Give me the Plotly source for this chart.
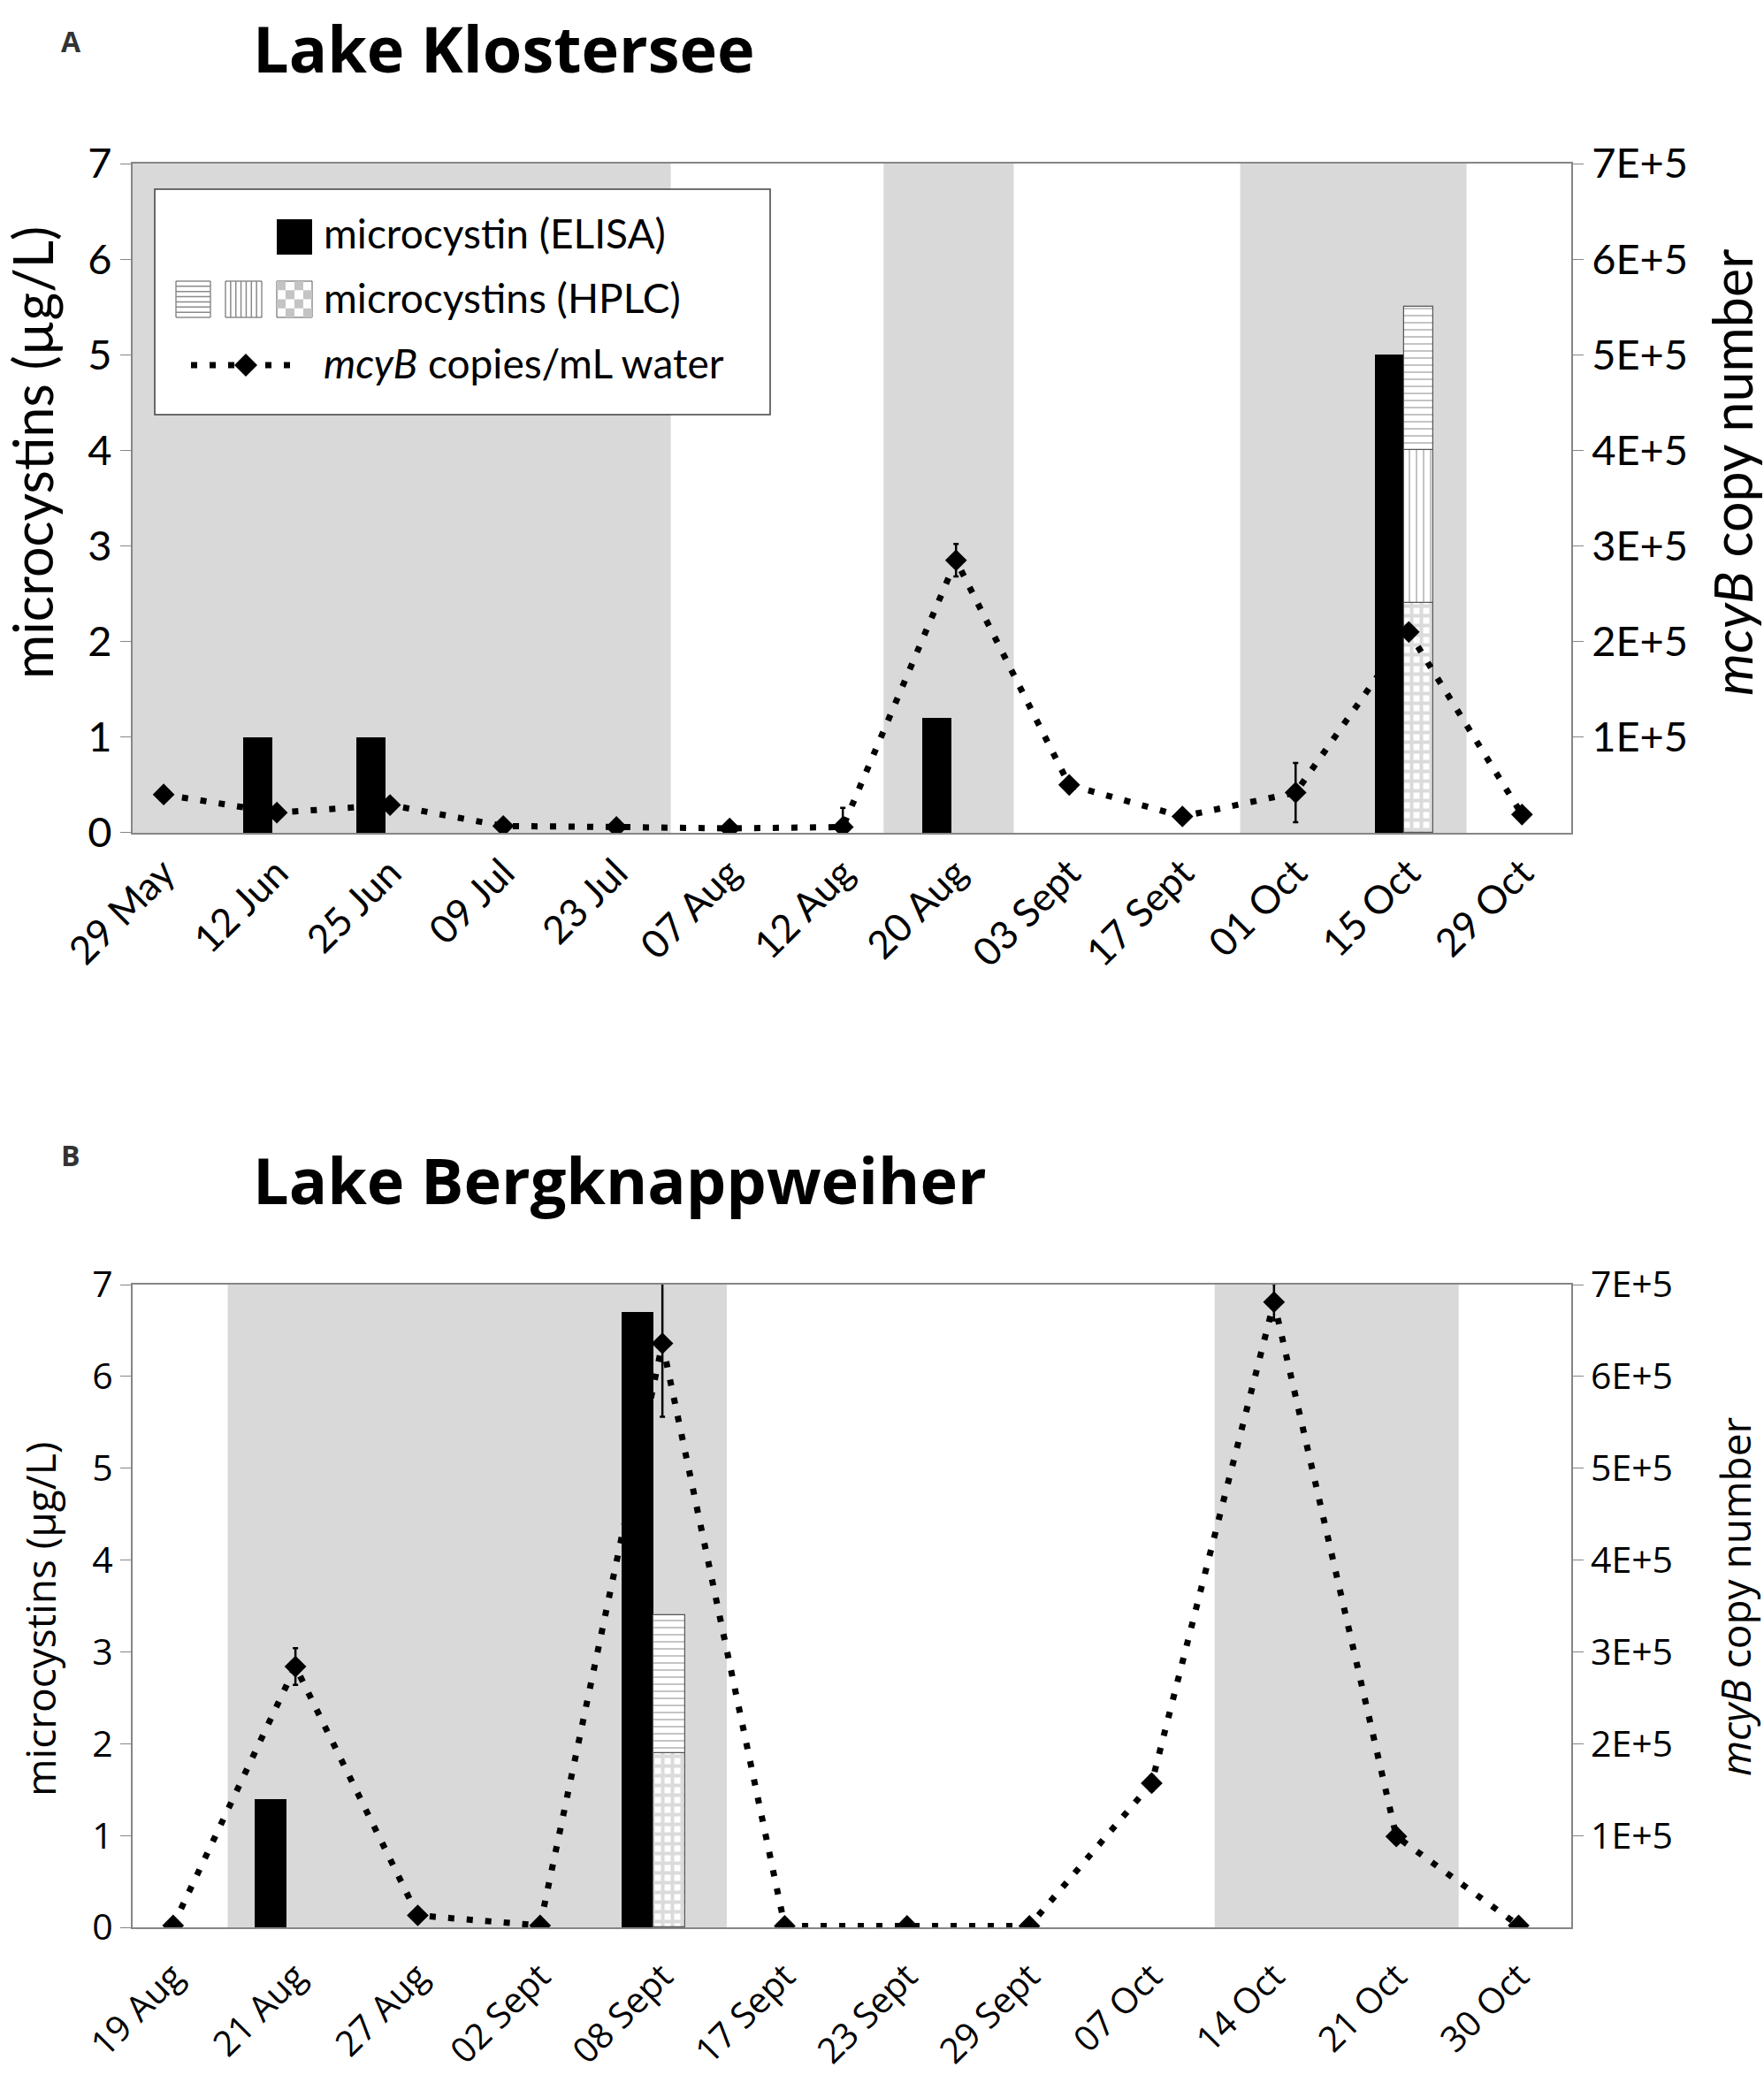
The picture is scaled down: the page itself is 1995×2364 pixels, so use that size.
import numpy as np
import plotly.graph_objects as go
from plotly.subplots import make_subplots

# ---- panel A : Lake Klostersee ----
dates_a = ['29 May', '12 Jun', '25 Jun', '09 Jul', '23 Jul', '07 Aug', '12 Aug',
           '20 Aug', '03 Sept', '17 Sept', '01 Oct', '15 Oct', '29 Oct']
elisa_a = [None, 1.0, 1.0, None, None, None, None, 1.2, None, None, None, 5.0, None]
hplc_check_a = [None] * 11 + [2.4, None]
hplc_vert_a = [None] * 11 + [1.6, None]
hplc_horiz_a = [None] * 11 + [1.5, None]
mcyb_a = [40000, 21000, 29000, 7000, 6000, 4500, 6000, 285000, 50000, 17000, 42000, 210000, 19000]
mcyb_err_a = [1500, 1500, 1500, 1000, 1000, 1000, 20000, 17000, 2000, 2000, 31000, 6000, 6000]
shade_a = [(-0.3, 4.48), (6.36, 7.51), (9.51, 11.51)]

# ---- panel B : Lake Bergknappweiher ----
dates_b = ['19 Aug', '21 Aug', '27 Aug', '02 Sept', '08 Sept', '17 Sept', '23 Sept',
           '29 Sept', '07 Oct', '14 Oct', '21 Oct', '30 Oct']
elisa_b = [None, 1.4, None, None, 6.7, None, None, None, None, None, None, None]
hplc_check_b = [None] * 4 + [1.9] + [None] * 7
hplc_vert_b = [None] * 12
hplc_horiz_b = [None] * 4 + [1.5] + [None] * 7
mcyb_b = [2000, 284000, 13000, 2000, 636000, 1500, 1500, 1500, 157000, 681000, 99000, 2000]
mcyb_err_b = [0, 20000, 5000, 0, 80000, 0, 0, 0, 8000, 20000, 8000, 3000]
shade_b = [(0.446, 4.527), (8.515, 10.51)]

left_ticks = [0, 1, 2, 3, 4, 5, 6, 7]
right_ticks = [100000, 200000, 300000, 400000, 500000, 600000, 700000]
right_labels = ['1E+5', '2E+5', '3E+5', '4E+5', '5E+5', '6E+5', '7E+5']

W, H = 1995, 2364
ML, MR, MT, MB = 150, 218, 185, 184

fig = make_subplots(rows=2, cols=1, specs=[[{'secondary_y': True}], [{'secondary_y': True}]])


def num(v):
    return np.array([np.nan if x is None else x for x in v], dtype=float)


def add_panel(row, dates, elisa, chk, vert, hor, mcyb, err, shift):
    bw = 0.26
    fig.add_trace(go.Bar(x=dates, y=elisa, width=bw, offset=shift - bw,
                         marker=dict(color='black', line=dict(width=0)),
                         showlegend=False), row=row, col=1, secondary_y=False)
    c, v, h = num(chk), num(vert), num(hor)
    base_v = np.nan_to_num(c)
    base_h = base_v + np.nan_to_num(v)
    pats = [(c, np.zeros(len(c)), '+', 11, 0.6, '#b8b8b8'),
            (v, base_v, '|', 8, 0.25, '#8a8a8a'),
            (h, base_h, '-', 8, 0.25, '#8a8a8a')]
    for vals, base, shp, size, sol, fg in pats:
        fig.add_trace(go.Bar(x=dates, y=vals, base=base, width=bw, offset=shift,
                             marker=dict(color='white', line=dict(color='#555555', width=1.2),
                                         pattern=dict(shape=shp, size=size, solidity=sol,
                                                      fgcolor=fg, bgcolor='white',
                                                      fillmode='overlay')),
                             showlegend=False), row=row, col=1, secondary_y=False)
    fig.add_trace(go.Scatter(x=dates, y=mcyb, mode='lines+markers',
                             line=dict(color='black', width=7, dash='7px,14px'),
                             marker=dict(symbol='diamond', size=19, color='black'),
                             error_y=dict(type='data', array=err, color='black',
                                          thickness=2.5, width=3),
                             showlegend=False), row=row, col=1, secondary_y=True)


add_panel(1, dates_a, elisa_a, hplc_check_a, hplc_vert_a, hplc_horiz_a, mcyb_a, mcyb_err_a, -0.04)
add_panel(2, dates_b, elisa_b, hplc_check_b, hplc_vert_b, hplc_horiz_b, mcyb_b, mcyb_err_b, -0.073)

shapes = []
for x0, x1 in shade_a:
    shapes.append(dict(type='rect', xref='x', yref='y domain', x0=x0, x1=x1, y0=0, y1=1,
                       fillcolor='#d9d9d9', line=dict(width=0), layer='below'))
for x0, x1 in shade_b:
    shapes.append(dict(type='rect', xref='x2', yref='y3 domain', x0=x0, x1=x1, y0=0, y1=1,
                       fillcolor='#d9d9d9', line=dict(width=0), layer='below'))

# ---- hand-made legend inside panel A (pixel positions) ----
PW, PH = W - ML - MR, H - MT - MB


def px(x):
    return (x - ML) / PW


def py(y):
    return (H - MB - y) / PH


def prect(x0, y0, x1, y1, **kw):
    d = dict(type='rect', xref='paper', yref='paper', x0=px(x0), x1=px(x1), y0=py(y1), y1=py(y0))
    d.update(kw)
    shapes.append(d)


def pline(x0, y0, x1, y1, **kw):
    d = dict(type='line', xref='paper', yref='paper', x0=px(x0), x1=px(x1), y0=py(y0), y1=py(y1))
    d.update(kw)
    shapes.append(d)


prect(175, 214, 871, 469, fillcolor='white', line=dict(color='#404040', width=1.5))
prect(313, 248, 353, 288, fillcolor='black', line=dict(width=0))
# horizontal stripes
prect(199, 318, 238, 359, fillcolor='white', line=dict(color='#555555', width=1))
for k in range(1, 7):
    pline(199, 318 + k * 41 / 7, 238, 318 + k * 41 / 7, line=dict(color='#8a8a8a', width=1.5))
# vertical stripes
prect(255, 318, 296, 359, fillcolor='white', line=dict(color='#555555', width=1))
for k in range(1, 7):
    pline(255 + k * 41 / 7, 318, 255 + k * 41 / 7, 359, line=dict(color='#8a8a8a', width=1.5))
# checker
prect(313, 318, 353, 359, fillcolor='white', line=dict(color='#555555', width=1))
for i in range(4):
    for j in range(4):
        if (i + j) % 2 == 0:
            prect(313 + i * 10, 318 + j * 10.25, 323 + i * 10, 328.25 + j * 10.25,
                  fillcolor='#c4c4c4', line=dict(width=0))
# line + diamond
pline(216, 413, 342, 413, line=dict(color='black', width=7, dash='7px,14px'))
shapes.append(dict(type='path', xref='paper', yref='paper',
                   path=f'M {px(265)},{py(413)} L {px(278)},{py(400)} L {px(291)},{py(413)} '
                        f'L {px(278)},{py(426)} Z',
                   fillcolor='black', line=dict(width=0)))

annotations = []
legend_font = dict(family='Lato, Noto Sans, sans-serif', size=46, color='black')
for txt, yy in [('microcystin (ELISA)', 263), ('microcystins (HPLC)', 336),
                ('<i>mcyB</i> copies/mL water', 411)]:
    annotations.append(dict(text=txt, x=px(364), y=py(yy), xanchor='left', font=legend_font))

title_font = dict(family='Open Sans, sans-serif', size=72, color='black')
lab_font = dict(family='Open Sans, sans-serif', size=32, color='#333333')
annotations += [
    dict(text='<b>A</b>', x=px(80), y=py(46), font=lab_font, xanchor='center'),
    dict(text='<b>Lake Klostersee</b>', x=px(284), y=py(54), xanchor='left', font=title_font),
    dict(text='<b>B</b>', x=px(80), y=py(1306), font=lab_font, xanchor='center'),
    dict(text='<b>Lake Bergknappweiher</b>', x=px(284), y=py(1334), xanchor='left',
         font=title_font),
]

# axis titles placed as rotated text
tfonts = {1: dict(family='Lato, sans-serif', size=61, color='black'),
          2: dict(family='Open Sans, sans-serif', size=46, color='black')}
annotations += [
    dict(text='microcystins (µg/L)', x=px(36), y=py(512), textangle=-90, font=tfonts[1],
         xanchor='center'),
    dict(text='<i>mcyB</i> copy number', x=px(1958), y=py(535), textangle=-90, font=tfonts[1],
         xanchor='center'),
    dict(text='microcystins (µg/L)', x=px(45), y=py(1832), textangle=-90, font=tfonts[2],
         xanchor='center'),
    dict(text='<i>mcyB</i> copy number', x=px(1962), y=py(1806), textangle=-90, font=tfonts[2],
         xanchor='center'),
]
for a in annotations:
    a.setdefault('xref', 'paper')
    a.setdefault('yref', 'paper')
    a.setdefault('yanchor', 'middle')
    a['showarrow'] = False

fig.update_layout(
    width=W, height=H, plot_bgcolor='white', paper_bgcolor='white',
    margin=dict(l=ML, r=MR, t=MT, b=MB, autoexpand=False), barmode='overlay', bargap=0,
    shapes=shapes, annotations=annotations, showlegend=False,
)

axis_gray = '#868686'
fonts = {1: dict(family='Lato, sans-serif', size=47, color='black'),
         2: dict(family='Open Sans, sans-serif', size=41, color='black')}
xfonts = {1: dict(family='Lato, sans-serif', size=44, color='black'),
          2: dict(family='Open Sans, sans-serif', size=40, color='black')}
standoffs = {1: 0, 2: 14}
ranges = {1: [-0.274, 12.435], 2: [-0.331, 11.43]}
cats = {1: dates_a, 2: dates_b}

for r in (1, 2):
    fig.update_xaxes(type='category', categoryorder='array', categoryarray=cats[r],
                     range=ranges[r], domain=[0, 1], tickangle=-45, tickfont=xfonts[r],
                     ticklabelstandoff=standoffs[r],
                     showline=True, linecolor=axis_gray, linewidth=2, mirror=True,
                     showgrid=False, ticks='', automargin=False, row=r, col=1)
    fig.update_yaxes(range=[0, 7], tickvals=left_ticks, tickfont=fonts[r], showline=True,
                     linecolor=axis_gray, linewidth=2, ticks='outside', tickcolor=axis_gray,
                     ticklen=12, showgrid=False, zeroline=False, automargin=False,
                     row=r, col=1, secondary_y=False)
    fig.update_yaxes(range=[0, 700000], tickvals=right_ticks, ticktext=right_labels,
                     tickfont=fonts[r], showline=True, linecolor=axis_gray, linewidth=1.5,
                     ticks='outside', tickcolor=axis_gray, ticklen=12, showgrid=False,
                     zeroline=False, automargin=False, row=r, col=1, secondary_y=True)

fig.update_layout(yaxis=dict(domain=[0.6206, 1]), yaxis2=dict(domain=[0.6206, 1]),
                  yaxis3=dict(domain=[0, 0.3644]), yaxis4=dict(domain=[0, 0.3644]))

fig.write_html('out.html', config={'displayModeBar': False},
               post_script="document.body.style.margin='0';")
